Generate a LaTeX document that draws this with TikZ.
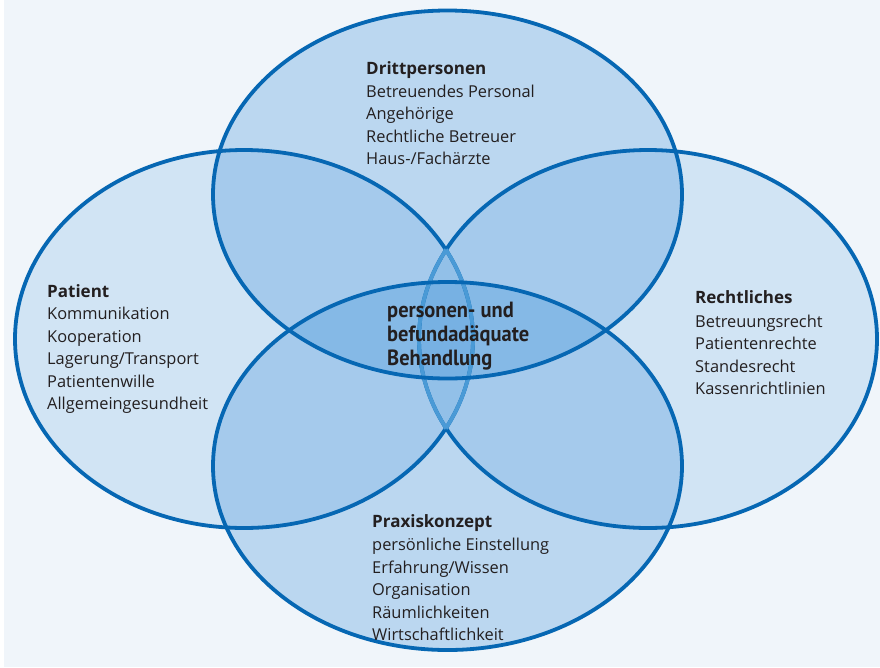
\documentclass[tikz,border=0pt]{standalone}
\usepackage{fontspec}
\setmainfont{Open Sans}
\newfontfamily\corefont{PT Sans}
\usepackage{graphicx}
\usetikzlibrary{positioning}
\definecolor{vennline}{HTML}{0667B3}
\definecolor{vennlens}{HTML}{4A9AD6}
\definecolor{vennfill}{HTML}{338CD9}
\definecolor{vennbg}{HTML}{F0F5FA}
\definecolor{venntext}{HTML}{231F20}
\tikzset{outer set/.style={fill=vennfill, fill opacity=0.16},
inner set/.style={fill=vennfill, fill opacity=0.28},
tall ring/.style={x radius=234.5pt, y radius=184pt},
wide ring/.style={x radius=229pt, y radius=189pt},
set line/.style={draw=vennline, line width=3.8pt},
lens line/.style={draw=vennlens, line width=3.8pt},
set title/.style={anchor=base west, inner sep=0pt, text=venntext,
  font=\fontsize{17}{20}\selectfont\bfseries},
set item/.style={anchor=base west, inner sep=0pt, text=venntext,
  font=\fontsize{16.4}{20}\selectfont},
core text/.style={anchor=base west, inner sep=0pt, text=venntext,
  font=\corefont\fontsize{22}{24}\selectfont\bfseries}}

\begin{document}
\begin{tikzpicture}[x=1pt, y=-1pt]
        \useasboundingbox (0,0) rectangle (880,667);
        \fill[vennbg] (4,0) rectangle (880,667);

        \coordinate (top) at (447.5,194.5);
        \coordinate (bottom) at (447.5,466);
        \coordinate (left) at (244,339);
        \coordinate (right) at (648,339);

        % fills first, outlines afterwards
        \path[inner set] (top) ellipse [tall ring];
        \path[inner set] (bottom) ellipse [tall ring];
        \path[outer set] (left) ellipse [wide ring];
        \path[outer set] (right) ellipse [wide ring];

        \draw[set line] (left) ellipse [wide ring];
        \draw[set line] (right) ellipse [wide ring];
        % the lens between left and right gets paler edges
        \begin{scope}
            \clip (right) ellipse [wide ring];
            \draw[lens line] (left) ellipse [wide ring];
        \end{scope}
        \begin{scope}
            \clip (left) ellipse [wide ring];
            \draw[lens line] (right) ellipse [wide ring];
        \end{scope}
        \draw[set line] (top) ellipse [tall ring];
        \draw[set line] (bottom) ellipse [tall ring];

        % labels
        \node[set title] (dritt) at (366,74) {Drittpersonen};
        \foreach \entry [count=\i] in {Betreuendes Personal, Angehörige,
            Rechtliche Betreuer, Haus-/Fachärzte}
            \node[set item] (dritt-\i) at (366,74.5+22.5*\i) {\entry};

        \node[set title] (patient) at (47,297) {Patient};
        \foreach \entry [count=\i] in {Kommunikation, Kooperation,
            Lagerung/Transport, Patientenwille, Allgemeingesundheit}
            \node[set item] (patient-\i) at (47,297+22.5*\i) {\entry};

        \node[set title] (recht) at (695,303) {Rechtliches};
        \foreach \entry [count=\i] in {Betreuungsrecht, Patientenrechte,
            Standesrecht, Kassenrichtlinien}
            \node[set item] (recht-\i) at (695,304.5+22.5*\i) {\entry};

        \node[set title] (praxis) at (372,527) {Praxiskonzept};
        \foreach \entry [count=\i] in {persönliche Einstellung, Erfahrung/Wissen,
            Organisation, Räumlichkeiten, Wirtschaftlichkeit}
            \node[set item] (praxis-\i) at (372,528+22.5*\i) {\entry};

        \node[core text] (core-1) at (387,317) {\scalebox{0.93}[1]{personen- und}};
        \node[core text] (core-2) at (387,341) {\scalebox{0.93}[1]{befundadäquate}};
        \node[core text] (core-3) at (387,365) {\scalebox{0.93}[1]{Behandlung}};
\end{tikzpicture}
\end{document}
